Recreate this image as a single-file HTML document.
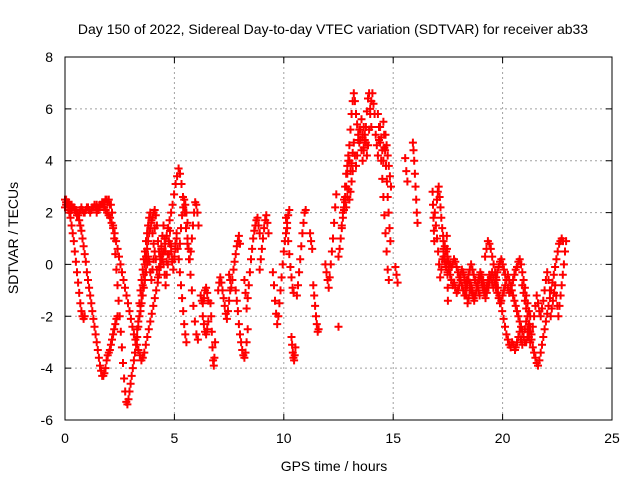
<!DOCTYPE html>
<html><head><meta charset="utf-8">
<style>
html,body{margin:0;padding:0;background:#fff;}
svg{display:block;font-family:"Liberation Sans",sans-serif;}
</style></head>
<body>
<svg id="chart" width="640" height="480" viewBox="0 0 640 480">
<rect x="0" y="0" width="640" height="480" fill="#fff"/>
<text x="333" y="34" font-size="14" text-anchor="middle" fill="#000">Day 150 of 2022, Sidereal Day-to-day VTEC variation (SDTVAR) for receiver ab33</text>
<text x="334" y="471" font-size="14" text-anchor="middle" fill="#000">GPS time / hours</text>
<text x="18" y="238" font-size="14" text-anchor="middle" fill="#000" transform="rotate(-90 18 238)">SDTVAR / TECUs</text>
<g id="grid"></g>
<g id="ticks"></g>
<g id="marks"></g>
<rect x="65" y="57" width="547" height="363" fill="none" stroke="#000" stroke-width="1"/>
</svg>
<script>
const xTicks = [0, 5, 10, 15, 20, 25];
const yTicks = [-6, -4, -2, 0, 2, 4, 6, 8];
const trackStarts = [0.0, 0.0, 0.0, 2.1, 1.45, 3.4, 5.6, 3.3,
  6.2, 6.3, 6.65, 7.0, 7.5, 7.8, 8.2, 8.9, 9.5, 10.1, 10.35, 10.6, 11.2, 11.35, 11.9, 12.5,
  12.5, 12.6, 13.6, 14.3, 14.55, 15.1, 15.55, 15.9, 16.8, 17.0, 17.45,
  17.3, 18.2, 19.2, 20.9, 20.6, 22.2, 16.9, 17.3, 14.2, 12.7];
const trackSteps = [0.05, 0.05, 0.05, 0.05, 0.068, 0.05, 0.05, 0.05,
  0.05, 0.05, 0.03, 0.05, 0.05, 0.05, 0.05, 0.05, 0.05, 0.05, 0.03, 0.05, 0.05, 0.04, 0.05, 0.05,
  0.05, 0.05, 0.05, 0.05, 0.04, 0.05, 0.05, 0.03, 0.02, 0.04, 0.01,
  0.06, 0.05, 0.065, 0.06, 0.06, 0.05, 0.05, 0.06, 0.05, 0.05];
const trackValues = [
  [2.5,2.4,2.3,2.2,2.0,1.8,1.5,1.2,0.9,0.5,0.1,-0.3,-0.7,-1.1,-1.5,-1.8,-2.0,-2.1,-2.0],
  [2.5,2.5,2.4,2.4,2.3,2.3,2.3,2.2,2.2,2.1,2.1,2.0,1.9,1.7,1.5,1.3,1.0,0.7,0.4,0.1,-0.3,-0.6,-0.9,-1.2,-1.5,-1.8,-2.1,-2.4,-2.7,-3.0,-3.3,-3.6,-3.9,-4.1,-4.3,-4.3,-4.2,-4.0,-3.7,-3.5,-3.4,-3.3,-3.1,-2.9,-2.7,-2.5,-2.3,-2.1,-2.0],
  [2.2,2.3,2.3,2.1,2.0,2.0,2.1,2.2,2.2,2.1,2.0,1.9,1.9,2.0,2.1,2.2,2.1,2.0,2.0,2.1,2.2,2.2,2.1,2.0,2.1,2.2,2.2,2.3,2.2,2.3,2.2,2.2,2.3,2.3,2.4,2.4,2.4,2.5,2.5,2.4,2.5,2.3],
  [2.3,2.0,1.5,1.0,0.4,-0.2,-0.8,-1.4,-2.0,-2.6,-3.2,-3.8,-4.4,-4.9,-5.3,-5.4,-5.2,-4.9,-4.6,-4.3,-4.0,-3.7,-3.4,-3.1,-2.8,-2.4,-2.0,-1.6,-1.2,-0.8,-0.4,0.0,0.3,0.6,0.9,1.2,1.4,1.6,1.8,2.0,2.1],
  [2.0,2.1,2.2,2.3,2.3,2.2,2.1,2.0,1.9,1.8,1.6,1.4,1.2,0.9,0.6,0.3,0.0,-0.3,-0.6,-0.9,-1.2,-1.5,-1.8,-2.1,-2.4,-2.7,-2.9,-3.1,-3.3,-3.5,-3.7,-3.6,-3.4,-3.1,-2.8,-2.5,-2.2,-1.9,-1.6,-1.3,-1.0,-0.7,-0.4,-0.1,0.2,0.5,0.8,1.1,1.4,1.7,2.0,2.3,2.7,3.1,3.4,3.7,3.5,3.1,2.6,2.0,1.4,0.8,0.2,-0.4,-1.0,-1.6,-2.2,-2.7,-2.9],
  [-1.5,-1.0,-0.6,-0.2,0.2,0.5,0.9,1.2,1.5,1.8,2.0,1.7,1.2,0.8,1.4,1.9,1.5,0.9,0.5,0.2,0.6,1.1,1.5,1.0,0.5,0.1,0.4,0.9,1.3,0.7,0.2,-0.2,0.3,0.8,1.2,0.6,0.2,0.8,1.4,1.9,2.2,2.5,2.3,2.0,1.6],
  [1.0,0.6,0.2,0.5,1.0,1.5,2.0,2.4,2.3,2.0,1.5],
  [-2.5,-2.2,-2.0,-1.8,-1.5,-1.2,-0.9,-0.6,-0.3,0.0,0.3,0.1,-0.3,-0.6,-0.2,0.2,0.5,0.2,-0.2,-0.5,-0.1,0.3,0.7,0.4,0.0,-0.4,-0.8,-0.4,0.0,0.4,0.8,0.5,0.1,-0.2,0.2,0.6,1.0,0.6,0.2,-0.3,-0.8,-1.3,-1.8,-2.3,-2.7,-3.0],
  [-1.2,-1.4,-1.5,-1.3,-1.0,-0.9,-1.1,-1.4],
  [-2.0,-2.3,-2.6,-2.7,-2.5,-2.2],
  [-1.5,-2.0,-2.6,-3.2,-3.7,-3.9,-3.6,-3.0],
  [-1.0,-0.7,-0.5,-0.7,-1.0,-1.3,-1.6,-1.9,-2.1,-1.8,-1.4,-1.0],
  [-0.4,-0.6,-0.9,-0.6,-0.2,0.1,0.4,0.7,0.9,1.1,0.8],
  [-1.0,-1.4,-1.8,-2.3,-2.7,-3.0,-3.3,-3.5,-3.6,-3.4,-3.0,-2.5],
  [-0.6,-1.1,-1.7,-1.3,-0.8,-0.3,0.2,0.6,1.0,1.3,1.5,1.7,1.8,1.5,1.2],
  [-0.2,0.2,0.6,1.0,1.4,1.7,1.9,1.6,1.2],
  [-0.3,-0.8,-1.4,-1.9,-2.3,-2.0,-1.5,-1.0,-0.5,0.0,0.5,0.9,1.2,1.6,1.9,2.1],
  [1.8,1.4,0.9,0.4,-0.1,-0.5,-0.9,-1.1],
  [-2.8,-3.1,-3.4,-3.6,-3.7,-3.5,-3.2],
  [-1.2,-0.8,-0.3,0.2,0.7,1.2,1.6,2.0,2.1],
  [1.2,0.9,0.6],
  [-0.8,-1.2,-1.6,-2.0,-2.3,-2.6,-2.5],
  [0.0,-0.3,-0.6,-0.9,-0.5,0.0,0.5,1.0,1.6,2.2,2.7],
  [-2.4],
  [0.3,0.6,1.0,1.4,1.8,2.2,2.6,3.0,3.5,4.0,4.6,5.2,5.8,6.3,6.6,6.3,5.8,5.4,5.0,4.7,5.2,5.6,5.0,4.4,4.8,5.3,5.9,6.4,6.6,6.0,5.3],
  [1.0,1.5,2.0,2.5,3.0,3.5,3.8,4.2,4.0,3.6,3.9,4.3,4.7,4.2,3.8,4.2,4.8,5.2,4.8,4.4,4.9,5.3],
  [4.0,4.5,5.0,4.7,4.2,4.6,5.2,5.8,6.3,6.6,6.2,5.8],
  [5.8,5.3,4.7,4.0,3.3,2.6,1.9,1.2,0.5,-0.2,-0.6],
  [5.5,5.0,4.4,3.8,3.2,2.6,2.0,1.4,0.9],
  [-0.1,-0.4,-0.7],
  [4.1,3.6,3.2],
  [4.7,4.4,4.0,3.5,3.0,2.5,2.0,1.6],
  [2.8,2.3,1.8,1.3,0.9],
  [2.5,2.8,3.0,2.6,2.2,1.8,1.4,1.1],
  [1.1,0.6,0.1,-0.4,-0.9,-1.4],
  [0.9,0.7,0.5,0.3,0.1,0.0,-0.1,0.0,0.2,0.1,-0.1,-0.3,-0.5,-0.4,-0.2,-0.3,-0.5,-0.7,-0.6,-0.4,-0.2,0.0,-0.2,-0.4,-0.6,-0.8,-0.7,-0.5,-0.3,-0.4,-0.6,-0.8,-1.0,-0.8,-0.6,-0.4,-0.5,-0.7,-0.9,-0.7,-0.5,-0.3,-0.1,0.1,0.2,0.0,-0.2,-0.4,-0.6,-0.9,-1.1,-1.0,-0.8,-0.6,-0.4,-0.2,-0.1,0.1,0.2,0.0,-0.3,-0.6,-0.9,-1.2,-1.5,-1.8,-2.0],
  [-0.3,-0.6,-0.9,-1.2,-1.5,-1.3,-1.0,-0.8,-1.0,-1.2,-1.4,-1.2,-1.0,-0.8,-1.0,-1.2],
  [0.3,0.6,0.9,0.8,0.6,0.3,0.0,-0.3,-0.6,-0.9,-1.2,-1.5,-1.8,-2.1,-2.4,-2.7,-2.9,-3.1,-3.2,-3.0,-3.1,-3.3],
  [-0.8,-1.1,-1.4,-1.7,-2.0,-2.3,-2.6,-2.9,-3.2,-3.4,-3.6,-3.8,-3.9,-3.7,-3.4,-3.1,-2.8,-2.5,-2.2,-1.9,-1.6,-1.3,-1.0,-0.7,-0.4,-0.1,0.2,0.5,0.8,0.9,1.0,0.9],
  [-3.2,-3.0,-2.8,-2.6,-2.9,-3.1,-2.8,-2.5,-2.2,-2.5,-2.8,-3.0,-2.7,-2.4,-2.0,-1.6,-1.2,-1.5,-1.8,-2.0,-1.7,-1.4,-1.0,-0.6,-0.3,-0.6,-1.0],
  [-2.0,-1.7,-1.4,-1.1,-0.8,-1.2,-1.6,-2.0,-1.6,-1.2,-0.8,-0.4,0.0,0.5,0.9],
  [2.0,1.5,1.0,0.5,0.0,-0.5,-0.2,0.2,0.6,0.3,0.0],
  [0.3,0.1,-0.1,-0.3,-0.2,-0.4,-0.6,-0.8,-0.7,-0.9,-1.1,-1.0,-0.8,-0.6,-0.8,-1.0,-1.2,-1.0,-0.8,-0.6,-0.7,-0.9,-1.1,-1.3,-1.2,-1.0,-0.8,-0.6,-0.5,-0.7,-0.9,-1.1,-1.3,-1.1,-0.9,-0.7,-0.5,-0.3,-0.5,-0.7,-0.9,-1.1,-1.3,-1.5,-1.4,-1.2,-1.0,-0.8,-0.6,-0.4,-0.6,-0.8,-1.0,-1.2,-1.4,-1.6,-1.8,-2.0,-2.2,-2.4,-2.6,-2.8,-3.0,-3.0,-2.8,-2.6,-2.4],
  [5.0,4.6,4.2,4.8,5.3,4.9,4.4,4.0,4.5,5.0,4.6,4.2,3.8,3.4,3.0],
  [1.8,2.1,2.4,2.2,2.6,2.9,2.5,2.8,3.2,3.6]
];

const X0 = 65, X1 = 612, Y0 = 420, Y1 = 57;
const xMin = 0, xMax = 25, yMin = -6, yMax = 8;
function xs(v){ return X0 + (v - xMin) / (xMax - xMin) * (X1 - X0); }
function ys(v){ return Y0 - (v - yMin) / (yMax - yMin) * (Y0 - Y1); }
const NS = 'http://www.w3.org/2000/svg';
const grid = document.getElementById('grid');
const ticks = document.getElementById('ticks');
const marks = document.getElementById('marks');

xTicks.forEach(function(t){
  const x = xs(t);
  if (t > xMin && t < xMax) {
    const g = document.createElementNS(NS, 'line');
    g.setAttribute('x1', x); g.setAttribute('x2', x); g.setAttribute('y1', Y1); g.setAttribute('y2', Y0);
    g.setAttribute('stroke', '#a0a0a0'); g.setAttribute('stroke-dasharray', '2,3');
    
    
    grid.appendChild(g);
  }
  const tk = document.createElementNS(NS, 'path');
  tk.setAttribute('d', 'M' + x + ' ' + Y0 + 'v-6M' + x + ' ' + Y1 + 'v6');
  tk.setAttribute('stroke', '#000');
  
  
  ticks.appendChild(tk);
  const lb = document.createElementNS(NS, 'text');
  lb.setAttribute('x', x); lb.setAttribute('y', Y0 + 23);
  lb.setAttribute('text-anchor', 'middle'); lb.setAttribute('font-size', '14');
  lb.textContent = t;
  
  
  ticks.appendChild(lb);
});
yTicks.forEach(function(t){
  const y = ys(t);
  if (t > yMin && t < yMax) {
    const g = document.createElementNS(NS, 'line');
    g.setAttribute('x1', X0); g.setAttribute('x2', X1); g.setAttribute('y1', y); g.setAttribute('y2', y);
    g.setAttribute('stroke', '#a0a0a0'); g.setAttribute('stroke-dasharray', '2,3');
    
    
    grid.appendChild(g);
  }
  const tk = document.createElementNS(NS, 'path');
  tk.setAttribute('d', 'M' + X0 + ' ' + y + 'h6M' + X1 + ' ' + y + 'h-6');
  tk.setAttribute('stroke', '#000');
  
  
  ticks.appendChild(tk);
  const lb = document.createElementNS(NS, 'text');
  lb.setAttribute('x', X0 - 12); lb.setAttribute('y', y + 5);
  lb.setAttribute('text-anchor', 'end'); lb.setAttribute('font-size', '14');
  lb.textContent = t;
  
  
  ticks.appendChild(lb);
});

let d = '';
trackValues.forEach(function(vals, i){
  vals.forEach(function(v, j){
    const t = trackStarts[i] + j * trackSteps[i];
    const x = xs(t), y = ys(v);
    d += 'M' + (x - 4).toFixed(1) + ' ' + y.toFixed(1) + 'h8M' + x.toFixed(1) + ' ' + (y - 4).toFixed(1) + 'v8';
  });
});
const p = document.createElementNS(NS, 'path');
p.setAttribute('d', d);
p.setAttribute('stroke', '#ff0000');
p.setAttribute('stroke-width', '2');
p.setAttribute('fill', 'none');


marks.appendChild(p);
</script>
</body></html>
